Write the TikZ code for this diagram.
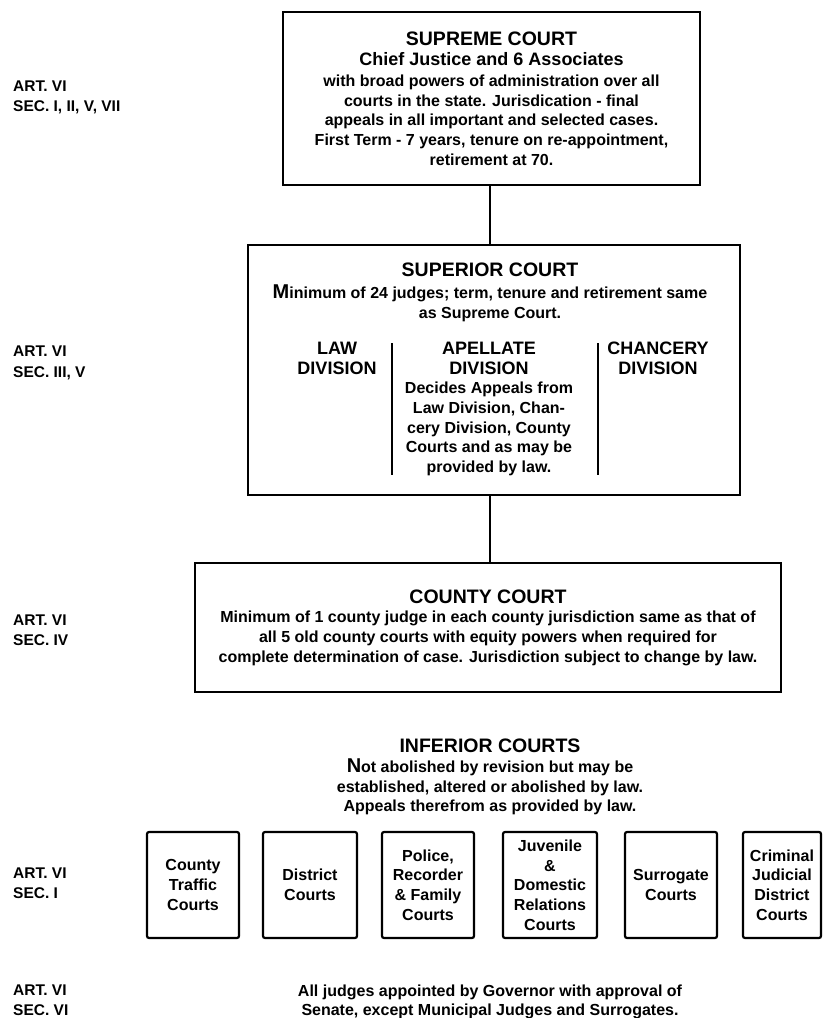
\documentclass[tikz,border=0pt]{standalone}
\usepackage{fontspec}
\setmainfont{Liberation Sans}
\usetikzlibrary{positioning}
\newcommand{\ttl}{\fontsize{19.5}{22}\selectfont}
\newcommand{\subttl}{\fontsize{18}{20}\selectfont}
\newcommand{\initial}[1]{{\fontsize{20}{20}\selectfont #1}}
\begin{document}
\begin{tikzpicture}[x=1pt,y=-1pt,font=\bfseries\fontsize{16}{19.7}\selectfont,
		box/.style={draw,line width=2.2pt,inner sep=0pt,align=center},
		court/.style={draw,line width=2.2pt,rounded corners=2pt,minimum height=106pt,inner sep=0pt,align=center},
		link/.style={line width=2pt},
		art/.style={anchor=west,align=left,inner sep=0pt,font=\bfseries\fontsize{15.5}{20.5}\selectfont}]
	\useasboundingbox (0,0) rectangle (824,1018);
	\coordinate (spine) at (490,0);
	% supreme court
	\node[box,minimum width=417pt,minimum height=173pt] (supreme) at (491.5,98.5) {{\ttl SUPREME COURT}\\[1pt]{\subttl Chief Justice and 6 Associates}\\[1pt]with broad powers of administration over all\\courts in the state. Jurisdication - final\\appeals in all important and selected cases.\\First Term - 7 years, tenure on re-appointment,\\retirement at 70.};
	% superior court
	\node[box,minimum width=492pt,minimum height=250pt] (superior) at (494,370) {};
	\node (suptitle) at (490,270) {\ttl SUPERIOR COURT};
	\node[align=center] (supnote) at (490,303) {\initial{M}inimum of 24 judges; term, tenure and retirement same\\as Supreme Court.};
	\node[align=center,font=\bfseries\subttl] (law) at (337,358) {LAW\\DIVISION};
	\node[align=center] (apellate) at (489,409) {{\subttl APELLATE}\\{\subttl DIVISION}\\Decides Appeals from\\Law Division, Chan-\\cery Division, County\\Courts and as may be\\provided by law.};
	\node[align=center,font=\bfseries\subttl] (chancery) at (658,358) {CHANCERY\\DIVISION};
	\draw[link] (392,343) -- (392,475);
	\draw[link] (598,343) -- (598,475);
	% county court
	\node[box,minimum width=586pt,minimum height=129pt] (county) at (488,627.5) {{\ttl COUNTY COURT}\\Minimum of 1 county judge in each county jurisdiction same as that of\\all 5 old county courts with equity powers when required for\\complete determination of case. Jurisdiction subject to change by law.};
	\draw[link] (spine |- supreme.south) -- (spine |- superior.north);
	\draw[link] (spine |- superior.south) -- (spine |- county.north);
	% inferior courts
	\node[align=center] (inferior) at (490,777) {{\ttl INFERIOR COURTS}\\\initial{N}ot abolished by revision but may be\\established, altered or abolished by law.\\Appeals therefrom as provided by law.};
	\foreach \cx/\w/\txt [count=\i] in {193/92/{County\\Traffic\\Courts},310/94/{District\\Courts},428/92/{Police,\\Recorder\\\& Family\\Courts},550/94/{Juvenile\\\&\\Domestic\\Relations\\Courts},671/92/{Surrogate\\Courts},782/78/{Criminal\\Judicial\\District\\Courts}}
		\node[court,minimum width=\w pt] (court\i) at (\cx,885) {\txt};
	\node[align=center] (appointed) at (490,1002) {All judges appointed by Governor with approval of\\Senate, except Municipal Judges and Surrogates.};
	% articles
	\node[art] (artsup) at (13,97.5) {ART. VI\\SEC. I, II, V, VII};
	\node[art] (artsupr) at (13,363) {ART. VI\\SEC. III, V};
	\node[art] (artcty) at (13,630) {ART. VI\\SEC. IV};
	\node[art] (artinf) at (13,883) {ART. VI\\SEC. I};
	\node[art] (artall) at (13,1000) {ART. VI\\SEC. VI};
\end{tikzpicture}
\end{document}
